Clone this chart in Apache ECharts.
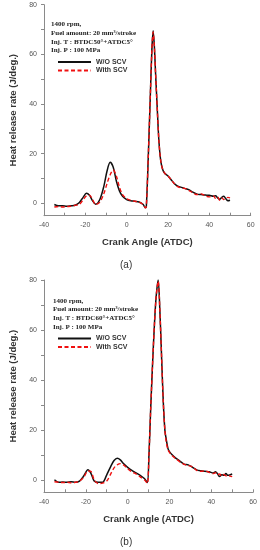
<!DOCTYPE html>
<html><head><meta charset="utf-8">
<script src="https://cdn.jsdelivr.net/npm/echarts@6/dist/echarts.min.js"></script>
<style>html,body{margin:0;padding:0;background:#fff}#c{width:260px;height:550px}</style>
</head><body><div id="c"></div>
<script>
// Chart (a)
const angleA = [-35,-33,-31,-29,-27,-25,-23,-21,-19.5,-18,-16.5,-15,-13,-11,-9.5,-8,-6.5,-5,-3.5,-2,0,2,4,6,8,9,9.5,10.5,11.5,12.2,12.8,13.4,14,14.8,15.6,16.5,17.5,18.5,20,21.5,23,24.5,26,28,30,32,34,36,38,40,42,43,44,45,46,47,48,49,50];
const woA = [-0.5,-1,-1,-1.2,-1,-0.8,0.2,2.5,4,3.2,1,-0.4,1.5,7,13,16.5,14.5,9,5,2.8,1.5,1,0.8,0.5,-0.5,-1.8,-1.4,20,45,62,69.5,63,52,38,25,17,13.4,12,11,9.5,8,7,6.5,6,5.5,4.5,3.7,3.5,3.3,3.2,2.8,3,2.2,1.6,2.4,2.8,1.8,1,1.2];
const withA = [-1.5,-1.3,-1.5,-1.3,-1.2,-0.8,-0.5,1.5,3,3.3,1.5,-0.5,0.5,4,8,11.5,13.4,11,6.5,3.5,1.8,1.2,0.8,0.5,-0.5,-1.8,-1.5,20,45,62,69,63,52,38,25,17,13.4,12,11,9.5,8,6.8,6.3,6,5.2,4.3,3.5,3.8,3,2.6,3,2,2.5,1.2,2.2,1.5,2,2.4,2.2];
// Chart (b)
const angleB = [-35,-33,-31,-29,-27,-25,-23,-21,-19,-17.5,-16,-14,-12,-10,-8,-6.5,-5,-3.5,-2,0,2,4,6,8,9.4,10.2,11,12,12.8,13.6,14.6,15.4,16.2,17,17.8,18.5,19.3,20,21.5,23,25,27,29,31,33,35,37,39,41,42,43,44,45,46,47,48,49,50];
const woB = [0,-1,-0.9,-1,-0.8,-1,-0.5,1.5,4,2.5,-0.5,-1,-1,2,5.5,7.7,8.6,8,6.5,5,3.8,2.8,1.8,0.5,-1.1,10,28,48,62,73,80,68,50,32,20,16,12.5,11.3,9.8,8.7,7.5,6.3,6,5,4,3.6,3.4,3.2,2.7,3.2,2.4,1.3,2,1.8,2.5,1.8,2,2.3];
const withB = [-0.8,-1,-1.1,-1,-1.2,-1,-0.5,1,3.5,3.3,0,-1.5,-1.3,-0.5,2.5,4.8,6,6.5,6,4.5,3.2,2.4,1.2,0,-1.4,10,28,48,62,73,79.5,68,50,32,20,15,12,11,9.5,8.5,7.2,6.2,5.7,5.2,3.8,3.4,3.6,3,2.5,2.8,2,2.3,1.5,2.1,1.6,1.8,1.5,1.3];
const xTicks = [-40,-30,-20,-10,0,10,20,30,40,50,60];
const xLabels = [-40,-20,0,20,40,60];
const yTicks = [0,10,20,30,40,50,60,70,80];
const yLabels = [0,20,40,60,80];
const seriesNames = ['W/O SCV','With SCV'];
const notesA = ['1400 rpm,','Fuel amount: 20 mm³/stroke','Inj. T : BTDC50°+ATDC5°','Inj. P : 100 MPa'];
const notesB = ['1400 rpm,','Fuel amount: 20 mm³/stroke','Inj. T : BTDC60°+ATDC5°','Inj. P : 100 MPa'];
const xName = 'Crank Angle (ATDC)';
const yName = 'Heat release rate (J/deg.)';

const pair = (xs, ys) => xs.map((x, i) => [x, ys[i]]);
const axisGrey = '#8a8a8a';
function xAxis(gi) {
  return {type:'value', gridIndex: gi, min:-40, max:60,
    axisLine:{show:true, onZero:false, lineStyle:{color:axisGrey, width:1}},
    axisTick:{show:true, inside:true, length:3, customValues:xTicks, lineStyle:{color:axisGrey}},
    axisLabel:{customValues:xLabels, fontSize:7, color:'#555', margin:6, fontFamily:'Liberation Sans'},
    splitLine:{show:false},
    name: xName, nameLocation:'middle', nameGap:22,
    nameTextStyle:{fontSize:9.5, fontWeight:'bold', color:'#333', fontFamily:'Liberation Sans'}};
}
function yAxis(gi) {
  return {type:'value', gridIndex: gi, min:-5, max:80,
    axisLine:{show:true, onZero:false, lineStyle:{color:axisGrey, width:1}},
    axisTick:{show:true, inside:false, length:3, customValues:yTicks, lineStyle:{color:axisGrey}},
    axisLabel:{customValues:yLabels, fontSize:7, color:'#555', margin:7, fontFamily:'Liberation Sans'},
    splitLine:{show:false},
    name: yName, nameLocation:'middle', nameGap:26,
    nameTextStyle:{fontSize:9.5, fontWeight:'bold', color:'#333', fontFamily:'Liberation Sans'}};
}
function mkSeries(gi, xs, ys, idx) {
  return {type:'line', name: seriesNames[idx], xAxisIndex:gi, yAxisIndex:gi, data: pair(xs, ys),
    showSymbol:false, symbol:'none', smooth:0.3, z: idx === 0 ? 2 : 3,
    lineStyle: idx === 0 ? {color:'#111', width:1.5, type:'solid'} : {color:'#f01010', width:1.4, type:[4,2.5]},
    itemStyle:{color: idx === 0 ? '#111' : '#f01010'}};
}
function notes(lines, left, top) {
  return lines.map((t, i) => ({type:'text', left:left, top: top + i*8.6,
    style:{text:t, font:'bold 7px "Liberation Serif"', fill:'#222'}}));
}
function legend(top) {
  return {data: seriesNames, orient:'vertical', left:57, top: top, itemWidth:33, itemHeight:8, itemGap:1.5,
    itemStyle:{opacity:0},
    textStyle:{fontSize:7, fontWeight:'bold', color:'#333', fontFamily:'Liberation Sans', padding:[0,0,0,0]},
    padding:0, selectedMode:false};
}
const chart = echarts.init(document.getElementById('c'), null, {renderer:'canvas'});
chart.setOption({
  animation:false,
  grid:[{left:41, top:4.7, width:209.7, height:211},
        {left:40.7, top:280, width:212.6, height:212.3}],
  xAxis:[xAxis(0), xAxis(1)],
  yAxis:[yAxis(0), yAxis(1)],
  legend:[legend(58.5), legend(335)],
  series:[mkSeries(0, angleA, woA, 0), mkSeries(0, angleA, withA, 1),
          mkSeries(1, angleB, woB, 0), mkSeries(1, angleB, withB, 1)],
  graphic:[
    ...notes(notesA, 51, 21),
    ...notes(notesB, 53, 297.5),
    {type:'text', left:120, top:260, style:{text:'(a)', font:'10px "Liberation Sans"', fill:'#333'}},
    {type:'text', left:120, top:537, style:{text:'(b)', font:'10px "Liberation Sans"', fill:'#333'}}
  ]
});
</script></body></html>
